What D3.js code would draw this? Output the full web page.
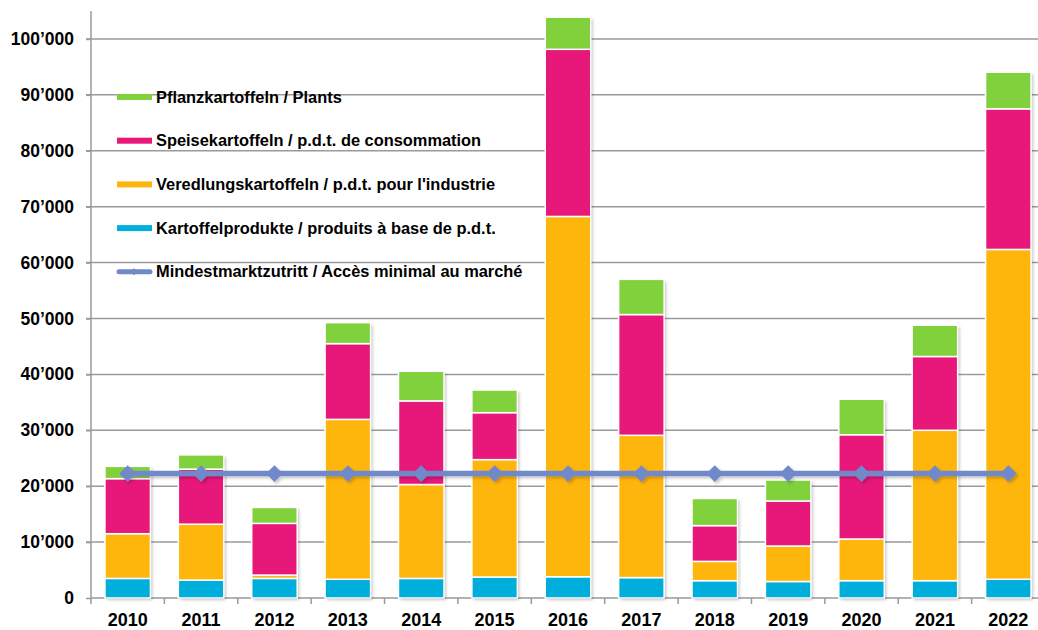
<!DOCTYPE html>
<html>
<head>
<meta charset="utf-8">
<script src="https://cdn.jsdelivr.net/npm/d3@7"></script>
<style>
body { margin:0; background:#fff; }
svg text { font-family: "Liberation Sans", Arial, sans-serif; font-weight:bold; fill:#000; }
</style>
</head>
<body>
<div id="chart"></div>
<script>
var years = ["2010","2011","2012","2013","2014","2015","2016","2017","2018","2019","2020","2021","2022"];
var kartoffelprodukte = [3500, 3200, 3500, 3350, 3500, 3750, 3800, 3650, 3100, 2950, 3100, 3100, 3350];
var veredlung = [8000, 10000, 600, 28600, 16800, 21000, 64450, 25450, 3450, 6350, 7450, 26900, 59000];
var speise = [9850, 9850, 9250, 13550, 14950, 8400, 29900, 21600, 6400, 8050, 18650, 13200, 25150];
var pflanz = [2200, 2550, 2850, 3750, 5300, 4050, 5750, 6300, 4850, 3750, 6350, 5600, 6550];
var mindest = [22250, 22250, 22250, 22250, 22250, 22250, 22250, 22250, 22250, 22250, 22250, 22250, 22250];
var yTicks = [0, 10000, 20000, 30000, 40000, 50000, 60000, 70000, 80000, 90000, 100000];

var seriesNames = ["Kartoffelprodukte / produits à base de p.d.t.", "Veredlungskartoffeln / p.d.t. pour l'industrie", "Speisekartoffeln / p.d.t. de consommation", "Pflanzkartoffeln / Plants"];
var lineName = "Mindestmarktzutritt / Accès minimal au marché";
var colors = ["#00AEDB", "#FEB60D", "#E8177A", "#81D13D"];
var lineColor = "#7189C8";

var W = 1038, H = 630;
var pLeft = 91, pRight = 1045, pTop = 11, pBottom = 598;

var svg = d3.select("#chart").append("svg").attr("width", W).attr("height", H);

var defs = svg.append("defs");
var f = defs.append("filter").attr("id", "sh").attr("x", "-20%").attr("y", "-20%").attr("width", "150%").attr("height", "150%");
f.append("feDropShadow").attr("dx", 2).attr("dy", 2).attr("stdDeviation", 1.5).attr("flood-color", "#000").attr("flood-opacity", 0.22);

var x = d3.scaleBand().domain(years).range([pLeft, pRight]).paddingInner(0.38).paddingOuter(0.19);
var y = d3.scaleLinear().domain([0, 105000]).range([pBottom, pTop]);

var loc = d3.formatLocale({decimal: ".", thousands: "\u2019", grouping: [3], currency: ["", ""]});
var fmt = loc.format(",");

// gridlines
svg.append("g").selectAll("line").data(yTicks.slice(1)).enter().append("line")
  .attr("x1", pLeft - 5).attr("x2", pRight)
  .attr("y1", function(d){ return y(d); }).attr("y2", function(d){ return y(d); })
  .style("stroke", "#9a9a9a").style("stroke-width", 1.5);

// y axis
var yAxis = d3.axisLeft(y).tickValues(yTicks).tickFormat(fmt).tickSize(5).tickPadding(12);
var ga = svg.append("g").attr("transform", "translate(" + pLeft + ",0)").call(yAxis);
ga.select(".domain").remove();
ga.selectAll(".tick line").style("stroke", "#9a9a9a").style("stroke-width", 1.5);
ga.selectAll(".tick text").style("font-size", "17.5px").style("font-family", "'Liberation Sans', Arial, sans-serif").style("font-weight", "bold").attr("fill", "#000");
svg.append("line").attr("x1", pLeft).attr("x2", pLeft).attr("y1", pTop).attr("y2", pBottom + 6)
  .style("stroke", "#9a9a9a").style("stroke-width", 1.5);

// x axis
svg.append("line").attr("x1", pLeft).attr("x2", pRight).attr("y1", pBottom).attr("y2", pBottom)
  .style("stroke", "#9a9a9a").style("stroke-width", 1.5);
var step = x.step();
svg.append("g").selectAll("line").data(years.slice(1)).enter().append("line")
  .attr("x1", function(d){ return x(d) - x.paddingInner() * step / 2; })
  .attr("x2", function(d){ return x(d) - x.paddingInner() * step / 2; })
  .attr("y1", pBottom).attr("y2", pBottom + 6)
  .style("stroke", "#9a9a9a").style("stroke-width", 1.5);
svg.append("g").selectAll("text").data(years).enter().append("text")
  .attr("x", function(d){ return x(d) + x.bandwidth() / 2; }).attr("y", 626)
  .attr("text-anchor", "middle").style("font-size", "18px")
  .text(function(d){ return d; });

// stacked bars
var table = years.map(function(yr, i){
  return {year: yr, k: kartoffelprodukte[i], v: veredlung[i], s: speise[i], p: pflanz[i]};
});
var stack = d3.stack().keys(["k", "v", "s", "p"])(table);

var gb = svg.append("g");
gb.selectAll("rect.bg").data(years).enter().append("rect")
  .attr("class", "bg")
  .attr("x", function(d){ return x(d); })
  .attr("width", x.bandwidth())
  .attr("y", function(d, i){ return y(stack[3][i][1]); })
  .attr("height", function(d, i){ return y(0) - y(stack[3][i][1]); })
  .attr("fill", "#fff").attr("filter", "url(#sh)");
gb.selectAll("g.ser").data(stack).enter().append("g")
  .attr("class", "ser")
  .attr("fill", function(d, i){ return colors[i]; })
  .selectAll("rect").data(function(d){ return d; }).enter().append("rect")
  .attr("x", function(d){ return x(d.data.year); })
  .attr("width", x.bandwidth())
  .attr("y", function(d){ return y(d[1]); })
  .attr("height", function(d){ return Math.max(0, y(d[0]) - y(d[1])); })
  .style("stroke", "#fff").style("stroke-width", 1.5);

// line
var line = d3.line().x(function(d, i){ return x(years[i]) + x.bandwidth() / 2; }).y(function(d){ return y(d); });
var gl = svg.append("g").attr("filter", "url(#sh)");
gl.append("path").datum(mindest).attr("d", line)
  .attr("fill", "none").style("stroke", lineColor).style("stroke-width", 5.5);
gl.selectAll("path.m").data(mindest).enter().append("path")
  .attr("class", "m")
  .attr("d", d3.symbol().type(d3.symbolDiamond2).size(180))
  .attr("transform", function(d, i){ return "translate(" + (x(years[i]) + x.bandwidth() / 2) + "," + y(d) + ")"; })
  .attr("fill", lineColor);

// legend
var legItems = [
  {name: seriesNames[3], color: colors[3]},
  {name: seriesNames[2], color: colors[2]},
  {name: seriesNames[1], color: colors[1]},
  {name: seriesNames[0], color: colors[0]}
];
var lg = svg.append("g");
legItems.forEach(function(it, i){
  var cy = 97 + i * 43.7;
  lg.append("rect").attr("x", 117).attr("y", cy - 3).attr("width", 35).attr("height", 6).attr("fill", it.color);
  lg.append("text").attr("x", 156).attr("y", cy + 5.5).style("font-size", "16.4px").text(it.name);
});
var cyl = 97 + 4 * 43.7;
lg.append("line").attr("x1", 119).attr("x2", 150).attr("y1", cyl).attr("y2", cyl)
  .style("stroke", lineColor).style("stroke-width", 5).style("stroke-linecap", "round");
lg.append("path").attr("d", d3.symbol().type(d3.symbolDiamond2).size(30))
  .attr("transform", "translate(134," + cyl + ")").attr("fill", lineColor);
lg.append("text").attr("x", 156).attr("y", cyl + 5.5).style("font-size", "16.4px").text(lineName);
</script>
</body>
</html>
